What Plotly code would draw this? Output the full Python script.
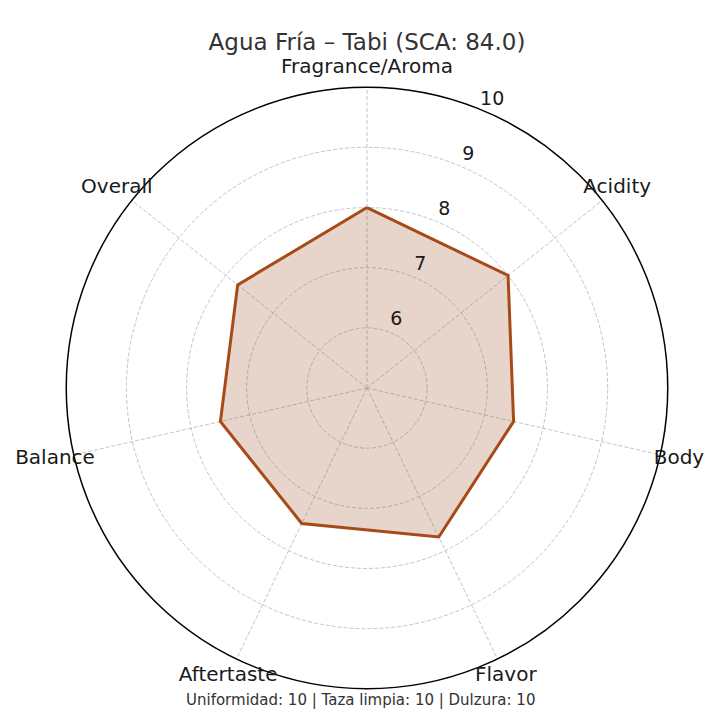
import plotly.graph_objects as go

categories = ["Fragrance/Aroma", "Acidity", "Body", "Flavor", "Aftertaste", "Balance", "Overall"]
scores = [8.0, 8.0, 7.5, 7.75, 7.5, 7.5, 7.75]
tick_vals = [6, 7, 8, 9, 10]
title_text = "Agua Fría – Tabi (SCA: 84.0)"
footer_text = "Uniformidad: 10 | Taza limpia: 10 | Dulzura: 10"

r_min, r_max = 5, 10
label_r = 10.32          # radius of category labels (outside the frame)
tick_label_offset = 0.22 # radial tick labels sit a little outside their circle
tick_label_theta = 23.5  # degrees clockwise from top

theta = categories + [categories[0]]
r = scores + [scores[0]]
font_family = "DejaVu Sans, sans-serif"
n = len(categories)

fig = go.Figure()
# data polygon on the main polar
fig.add_trace(go.Scatterpolar(
    r=r, theta=theta, mode="lines", fill="toself",
    fillcolor="rgba(160,82,45,0.25)",
    line=dict(color="#A64A18", width=3),
    showlegend=False, hoverinfo="skip", subplot="polar",
))
# category labels on an overlay polar (numeric degrees, larger range)
fig.add_trace(go.Scatterpolar(
    r=[label_r] * n, theta=[i * 360 / n for i in range(n)], mode="text",
    text=categories, textposition="middle center", cliponaxis=False,
    textfont=dict(size=20, color="#1a1a1a", family=font_family),
    showlegend=False, hoverinfo="skip", subplot="polar2",
))
# radial tick labels
fig.add_trace(go.Scatterpolar(
    r=[v + tick_label_offset for v in tick_vals], theta=[tick_label_theta] * len(tick_vals),
    mode="text", text=[str(v) for v in tick_vals], textposition="middle center",
    cliponaxis=False,
    textfont=dict(size=19, color="#1a1a1a", family=font_family),
    showlegend=False, hoverinfo="skip", subplot="polar2",
))

frac = 0.5 * (r_max - r_min) / (label_r - r_min)
main_dom = [0.5 - frac, 0.5 + frac]
L, R, T, B = 39, 41, 60, 20  # body margin of 8px is accounted for

hidden_radial = dict(range=[r_min, label_r], showline=False, showgrid=False,
                     showticklabels=False, ticks="")
hidden_angular = dict(type="linear", thetaunit="degrees", direction="clockwise", rotation=90,
                      showline=False, showgrid=False, showticklabels=False, ticks="")

fig.update_layout(
    width=720, height=720,
    paper_bgcolor="white",
    margin=dict(l=L, r=R, t=T, b=B),
    font=dict(family=font_family, color="#1a1a1a"),
    title=dict(text=title_text, x=(L + 320) / 720, xanchor="center", y=1 - 34 / 720, yanchor="middle",
               font=dict(size=23, color="#333333", family=font_family)),
    polar=dict(
        bgcolor="white",
        domain=dict(x=main_dom, y=main_dom),
        radialaxis=dict(
            range=[r_min, r_max], tickvals=tick_vals, showticklabels=False,
            showline=False, ticks="",
            gridcolor="#c4c4c4", griddash="4px,2px", gridwidth=1,
        ),
        angularaxis=dict(
            direction="clockwise", rotation=90,
            showline=True, linecolor="black", linewidth=1.5,
            gridcolor="#c4c4c4", griddash="4px,2px", gridwidth=1,
            ticks="", showticklabels=False,
        ),
    ),
    polar2=dict(
        bgcolor="rgba(0,0,0,0)",
        domain=dict(x=[0, 1], y=[0, 1]),
        radialaxis=hidden_radial,
        angularaxis=hidden_angular,
    ),
    annotations=[dict(
        text=footer_text, x=(352 - L) / (720 - L - R), y=(720 - B - 692) / (720 - T - B),
        xref="paper", yref="paper",
        yanchor="middle", xanchor="center", showarrow=False,
        font=dict(size=15, color="#333333", family=font_family),
    )],
)
fig.write_html("out.html")
